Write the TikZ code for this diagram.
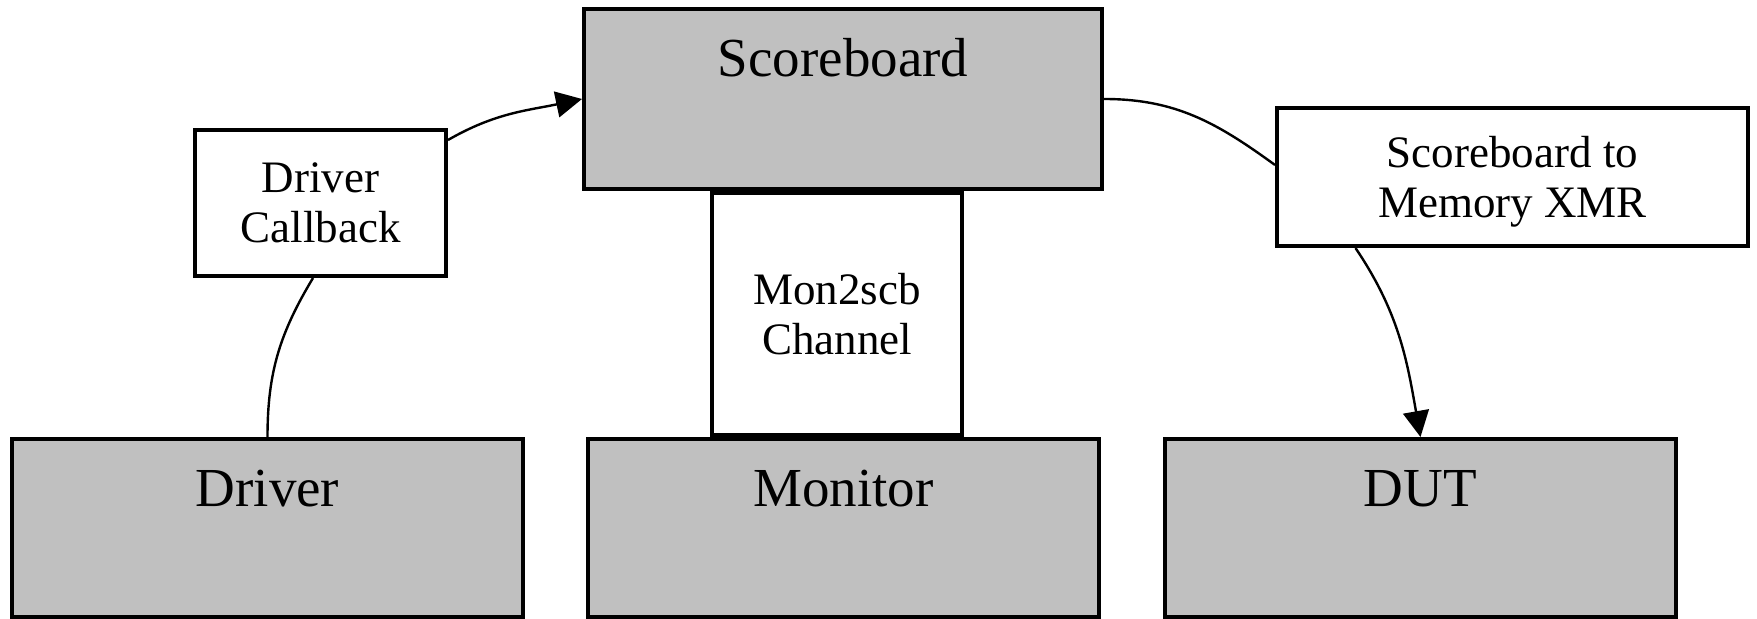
\documentclass[tikz,border=0pt]{standalone}
\usepackage{fontspec}
\setmainfont{Liberation Serif}
\usetikzlibrary{arrows.meta}
\definecolor{boxgray}{RGB}{192,192,192}
\newcommand{\blocktextfont}{\fontsize{27.5pt}{30pt}\selectfont}
\newcommand{\tagtextfont}{\fontsize{22.5pt}{25pt}\selectfont}
\begin{document}
\begin{tikzpicture}[x=0.5pt, y=-0.5pt,
  cbox/.style={draw=black, line width=2pt, rectangle, inner sep=0pt},
  blockbox/.style={cbox, fill=boxgray, font=\blocktextfont, text height=34pt},
  tagbox/.style={cbox, fill=white, align=center, font=\tagtextfont},
  wire/.style={line width=1.2pt},
  headtip/.style={-{Triangle[length=13pt,width=13pt]}}
]
% canvas
\fill[white] (0,0) rectangle (1757,619);
\useasboundingbox (0,0) rectangle (1757,619);

% main blocks
\node[blockbox, minimum width=259pt, text depth=56pt] (scb) at (843,99) {Scoreboard};
\node[blockbox, minimum width=255.5pt, text depth=55pt] (drv) at (267.5,528) {Driver};
\node[blockbox, minimum width=255.5pt, text depth=55pt] (mon) at (843.5,528) {Monitor};
\node[blockbox, minimum width=255.5pt, text depth=55pt] (dut) at (1420.5,528) {DUT};

% connection labels
\node[tagbox, minimum width=125pt, minimum height=121pt] (m2s) at (837,314) {Mon2scb\\Channel};
\node[tagbox, minimum width=125.5pt, minimum height=73pt] (cb) at (320.5,203) {Driver\\Callback};
\node[tagbox, minimum width=235.5pt, minimum height=69pt] (xmr) at (1512.5,177) {\rule{0pt}{20.3pt}Scoreboard to\\Memory XMR};

% connectors
\draw[wire] (drv.north) to[out=90,in=-121] ([xshift=-3.75pt]cb.south);
\draw[wire,headtip] ([yshift=-6pt]cb.north east) to[out=30,in=192] (scb.west);
\draw[wire] (scb.east) to[out=0,in=144] ([yshift=6pt]xmr.west);
\draw[wire,headtip] ([xshift=-78.5pt]xmr.south) to[out=-56,in=100] (dut.north);
\end{tikzpicture}
\end{document}
